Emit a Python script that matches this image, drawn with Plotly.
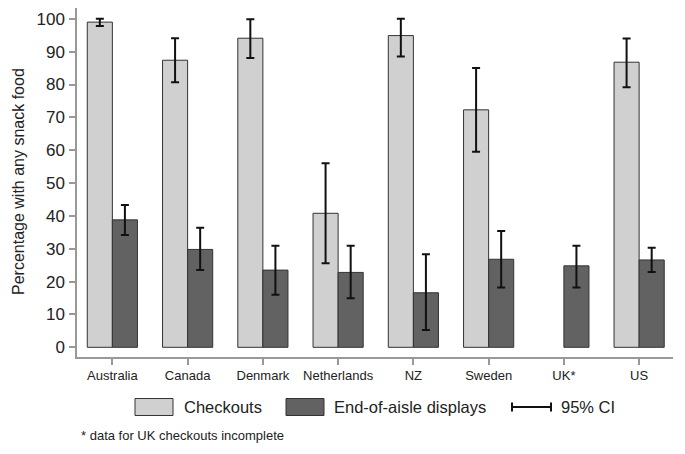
import plotly.graph_objects as go

countries = ["Australia", "Canada", "Denmark", "Netherlands", "NZ", "Sweden", "UK*", "US"]
checkouts = [99.0, 87.4, 94.1, 40.8, 94.9, 72.3, None, 86.8]
checkouts_lo = [97.8, 80.7, 88.1, 25.6, 88.5, 59.5, None, 79.2]
checkouts_hi = [100.0, 94.1, 99.9, 56.0, 100.0, 85.0, None, 94.0]
aisle = [38.8, 29.8, 23.5, 22.8, 16.6, 26.8, 24.8, 26.6]
aisle_lo = [34.2, 23.5, 16.0, 14.9, 5.3, 18.2, 18.2, 22.9]
aisle_hi = [43.3, 36.4, 30.9, 30.9, 28.3, 35.4, 30.9, 30.3]
yticks = [0, 10, 20, 30, 40, 50, 60, 70, 80, 90, 100]

def plus(v, hi):
    return [None if a is None else h - a for a, h in zip(v, hi)]

def minus(v, lo):
    return [None if a is None else a - l for a, l in zip(v, lo)]

FONT = "Liberation Sans, Arial, sans-serif"
LIGHT = "#d0d0d0"
DARK = "#626262"
EDGE = "#333333"

fig = go.Figure()
fig.add_trace(go.Bar(
    x=countries, y=checkouts, name="Checkouts",
    marker=dict(color=LIGHT, line=dict(color=EDGE, width=1)),
    error_y=dict(type="data", array=plus(checkouts, checkouts_hi),
                 arrayminus=minus(checkouts, checkouts_lo),
                 color="#111111", thickness=2, width=4),
))
fig.add_trace(go.Bar(
    x=countries, y=aisle, name="End-of-aisle displays",
    marker=dict(color=DARK, line=dict(color=EDGE, width=1)),
    error_y=dict(type="data", array=plus(aisle, aisle_hi),
                 arrayminus=minus(aisle, aisle_lo),
                 color="#111111", thickness=2, width=4),
))

# page has an 8px body margin; figure sized to fit the window
OFF = 8
W, H = 685 - 2 * OFF, 454 - 2 * OFF
L, T = 77 - OFF, 8 - OFF
R = W - (673 - OFF)
B = H - (357 - OFF)
pw, ph = W - L - R, H - T - B

def px(x):
    return (x - OFF - L) / pw

def py(y):
    return (H - B - (y - OFF)) / ph

fig.update_layout(
    width=W, height=H,
    margin=dict(l=L, r=R, t=T, b=B, autoexpand=False),
    paper_bgcolor="white", plot_bgcolor="white",
    barmode="group", bargap=1/3, bargroupgap=0,
    showlegend=False,
    font=dict(family=FONT, color="#222222"),
    xaxis=dict(range=[-0.47, 7.45], showline=True, linecolor="#999999", linewidth=1.5,
               ticks="outside", ticklen=6, tickcolor="#999999", tickwidth=1.5,
               tickfont=dict(size=13, color="#222222"), showgrid=False, zeroline=False,
               automargin=False),
    yaxis=dict(range=[-2.95, 103.3], tickvals=yticks, showline=True, linecolor="#999999",
               linewidth=1.5, ticks="outside", ticklen=6, tickcolor="#999999", tickwidth=1.5,
               tickfont=dict(size=17, color="#222222"), showgrid=False, zeroline=False,
               ticklabelstandoff=1, automargin=False),
)

# y-axis title
fig.add_annotation(text="Percentage with any snack food", xref="paper", yref="paper",
                   x=px(18), y=py(182), textangle=-90, showarrow=False,
                   font=dict(size=16, color="#222222", family=FONT),
                   xanchor="center", yanchor="middle")

# legend
ly = 407
for x0, x1, col in [(135, 173, LIGHT), (286, 324, DARK)]:
    fig.add_shape(type="rect", xref="paper", yref="paper",
                  x0=px(x0), x1=px(x1), y0=py(ly + 8.5), y1=py(ly - 8.5),
                  fillcolor=col, line=dict(color=EDGE, width=1))
fig.add_annotation(text="Checkouts", xref="paper", yref="paper", x=px(182), y=py(ly),
                   xanchor="left", yanchor="middle", showarrow=False,
                   font=dict(size=16.5, color="#222222", family=FONT))
fig.add_annotation(text="End-of-aisle displays", xref="paper", yref="paper", x=px(332), y=py(ly),
                   xanchor="left", yanchor="middle", showarrow=False,
                   font=dict(size=16.5, color="#222222", family=FONT))
fig.add_shape(type="line", xref="paper", yref="paper", x0=px(512), x1=px(551),
              y0=py(ly), y1=py(ly), line=dict(color="#111111", width=2))
for xx in (512, 551):
    fig.add_shape(type="line", xref="paper", yref="paper", x0=px(xx), x1=px(xx),
                  y0=py(ly - 4.5), y1=py(ly + 4.5), line=dict(color="#111111", width=2))
fig.add_annotation(text="95% CI", xref="paper", yref="paper", x=px(559), y=py(ly),
                   xanchor="left", yanchor="middle", showarrow=False,
                   font=dict(size=16.5, color="#222222", family=FONT))

# footnote
fig.add_annotation(text="* data for UK checkouts incomplete", xref="paper", yref="paper",
                   x=px(79), y=py(435), xanchor="left", yanchor="middle", showarrow=False,
                   font=dict(size=13, color="#222222", family=FONT))

fig.write_html("out.html")
